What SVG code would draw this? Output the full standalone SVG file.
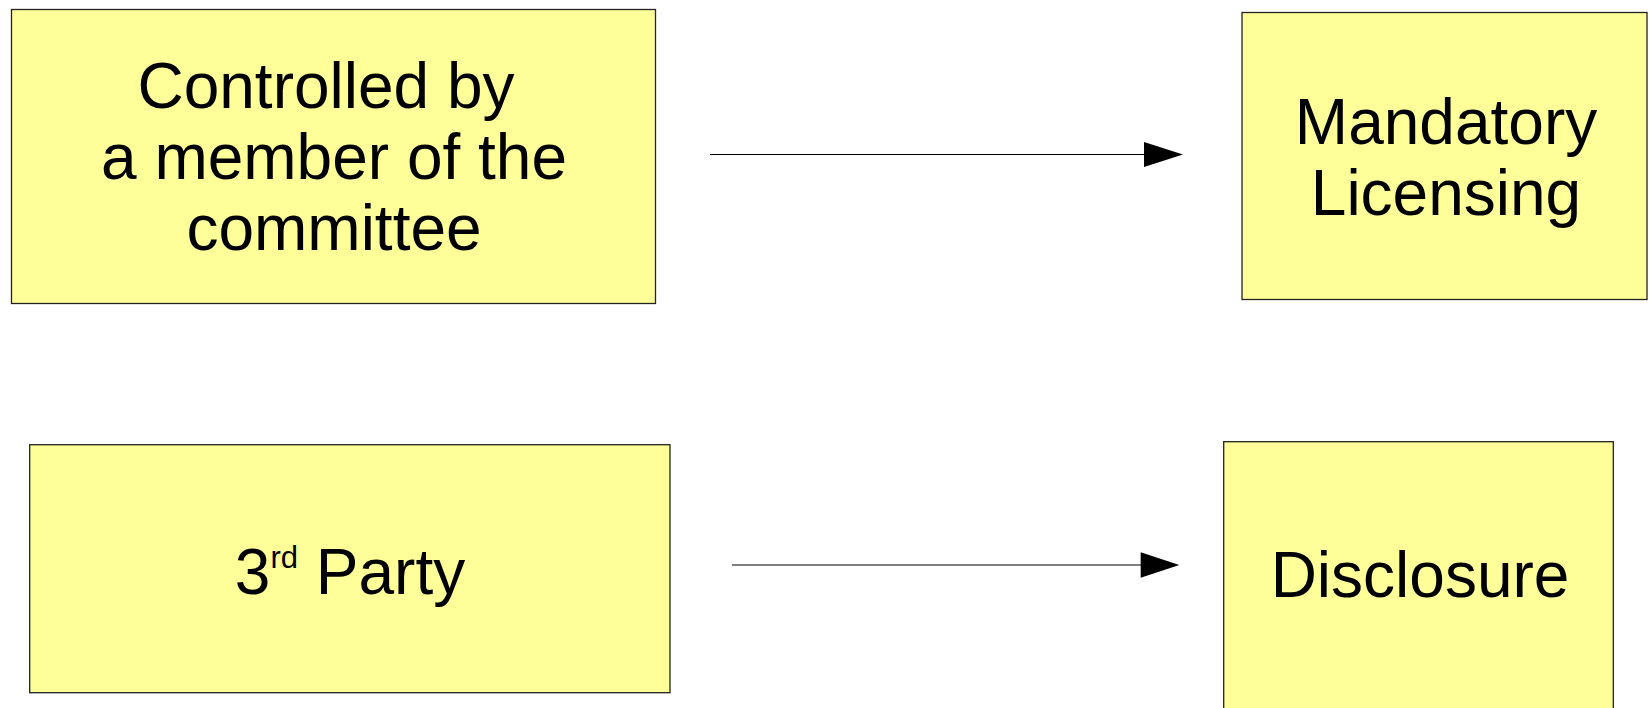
<svg xmlns="http://www.w3.org/2000/svg" width="1649" height="708" viewBox="0 0 1649 708">
<style>
.box{fill:#ffff99;stroke:#222;stroke-width:1.3}
.t{font-family:"Liberation Sans",Arial,sans-serif;font-size:64px;fill:#000;text-anchor:middle}
.ln{stroke:#000;stroke-width:1.2;fill:none}
.hd{fill:#000}
</style>
<rect width="1649" height="708" fill="#fff"/>
<g id="node-controlled">
<rect class="box" x="11.5" y="9.5" width="644" height="294"/>
<text class="t" x="326" y="108">Controlled by</text>
<text class="t" x="334" y="179">a member of the</text>
<text class="t" x="334" y="250">committee</text>
</g>
<g id="node-mandatory">
<rect class="box" x="1242" y="12.5" width="405" height="287"/>
<text class="t" x="1446" y="144">Mandatory</text>
<text class="t" x="1446" y="215">Licensing</text>
</g>
<g id="node-3rdparty">
<rect class="box" x="29.7" y="444.7" width="640.3" height="248"/>
<text class="t" x="350" y="594">3<tspan font-size="31" dy="-26">rd</tspan><tspan dy="26"> Party</tspan></text>
</g>
<g id="node-disclosure">
<rect class="box" x="1223.7" y="441.7" width="389.6" height="280"/>
<text class="t" x="1420" y="597">Disclosure</text>
</g>
<g id="connectors">
<line class="ln" x1="710" y1="154.5" x2="1146" y2="154.5"/>
<polygon class="hd" points="1144,142 1183,154.5 1144,167"/>
<line class="ln" x1="732" y1="565" x2="1142" y2="565"/>
<polygon class="hd" points="1140.7,552.3 1179.3,565 1140.7,577.7"/>
</g>
</svg>
